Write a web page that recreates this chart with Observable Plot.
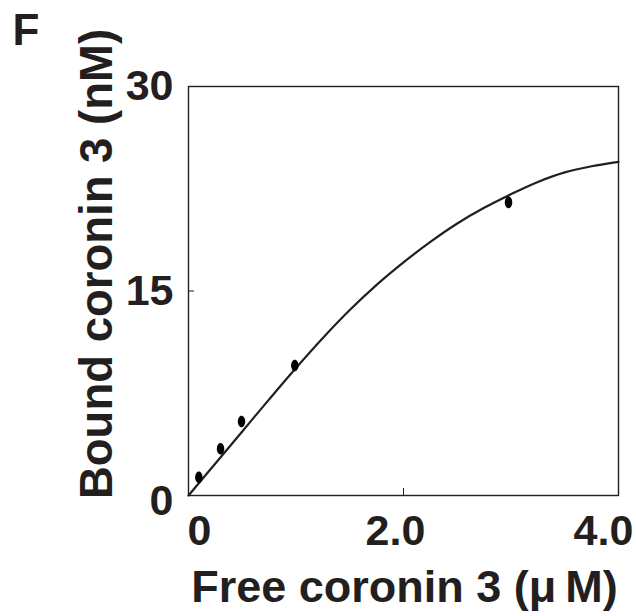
<!DOCTYPE html>
<html>
<head>
<meta charset="utf-8">
<script src="https://cdn.jsdelivr.net/npm/d3@7"></script>
<script src="https://cdn.jsdelivr.net/npm/@observablehq/plot@0.6"></script>
<style>
  html, body { margin: 0; padding: 0; background: #fff; }
  #chart { width: 636px; height: 616px; }
</style>
</head>
<body>
<div id="chart"></div>
<script>
// ---- data ----
const freeCoronin = [0.096, 0.298, 0.493, 0.989, 2.977];      // µM (measured points)
const boundCoronin = [1.34, 3.43, 5.43, 9.54, 21.5];          // nM
const fitX = [0, 0.25, 0.5, 0.75, 1.0, 1.25, 1.5, 1.75, 2.0, 2.25, 2.5, 2.75, 3.0, 3.25, 3.5, 3.75, 4.0];
const fitY = [0, 2.35, 4.7, 7.05, 9.35, 11.55, 13.6, 15.45, 17.1, 18.6, 19.95, 21.1, 22.1, 23.0, 23.7, 24.15, 24.47];
const xTicks = [0, 2, 4];
const xTickLabels = ["0", "2.0", "4.0"];
const yTicks = [0, 15, 30];
const yTickLabels = ["0", "15", "30"];
const panelLabel = "F";
const xLabel = "Free coronin 3 (\u03BC\u2009M)";
const yLabel = "Bound coronin 3 (nM)";

// ---- layout / style ----
const ink = "#231f20";
const font = "'Liberation Sans', Arial, Helvetica, sans-serif";
const xLabelShift = [11, -8, -15];
const yLabelShift = [6, 0, 0];

const points = freeCoronin.map((x, i) => ({x, y: boundCoronin[i]}));
const fit = fitX.map((x, i) => ({x, y: fitY[i]}));

const ellipse = {
  draw(ctx, size) {
    const r = Math.sqrt(size / Math.PI);
    const rx = r * 0.64, ry = r, k = 0.5523;
    ctx.moveTo(rx, 0);
    ctx.bezierCurveTo(rx, k * ry, k * rx, ry, 0, ry);
    ctx.bezierCurveTo(-k * rx, ry, -rx, k * ry, -rx, 0);
    ctx.bezierCurveTo(-rx, -k * ry, -k * rx, -ry, 0, -ry);
    ctx.bezierCurveTo(k * rx, -ry, rx, -k * ry, rx, 0);
    ctx.closePath();
  }
};

const textStyle = {fontSize: 43, fontWeight: "bold", fill: ink, label: null};

// inward tick marks only
const tickMarks = [
  Plot.axisX(xTicks, {anchor: "bottom", tickSize: -7, tickFormat: () => "", stroke: ink, label: null}),
  Plot.axisY(yTicks, {anchor: "left", tickSize: -6, tickFormat: () => "", stroke: ink, label: null})
];

// tick labels only, each nudged as in the reference
const xAxes = xTicks.map((t, i) => Plot.axisX([t], {
  anchor: "bottom", tickSize: 0, tickPadding: 19,
  tickFormat: () => xTickLabels[i], dx: xLabelShift[i], ...textStyle
}));
const yAxes = yTicks.map((t, i) => Plot.axisY([t], {
  anchor: "left", tickSize: 0, tickPadding: 15,
  tickFormat: () => yTickLabels[i], dy: yLabelShift[i], ...textStyle
}));

const chart = Plot.plot({
  width: 636,
  height: 616,
  marginLeft: 188,
  marginRight: 18,
  marginTop: 86,
  marginBottom: 121,
  style: {fontFamily: font, color: ink, background: "#fff"},
  x: {domain: [0, 4], label: null},
  y: {domain: [0, 30], label: null},
  marks: [
    Plot.frame({stroke: ink, strokeWidth: 1.4}),
    ...tickMarks,
    ...xAxes,
    ...yAxes,
    Plot.line(fit, {x: "x", y: "y", stroke: ink, strokeWidth: 2.2, curve: "catmull-rom"}),
    Plot.dot(points, {x: "x", y: "y", r: 5.8, symbol: ellipse, fill: "#000", stroke: "none"}),
    Plot.text([yLabel], {
      frameAnchor: "left", rotate: -90, dx: -109, dy: -27,
      lineAnchor: "top", textAnchor: "middle",
      fontSize: 45.5, fontWeight: "bold", fill: ink
    }),
    Plot.text([xLabel], {
      frameAnchor: "bottom", dy: 75, dx: 1,
      lineAnchor: "top", textAnchor: "middle",
      fontSize: 45, fontWeight: "bold", fill: ink
    }),
    Plot.text([panelLabel], {
      frameAnchor: "top-left", dx: -176, dy: -73,
      lineAnchor: "top", textAnchor: "start",
      fontSize: 44, fontWeight: "bold", fill: ink
    })
  ]
});
document.getElementById("chart").appendChild(chart);
</script>
</body>
</html>
